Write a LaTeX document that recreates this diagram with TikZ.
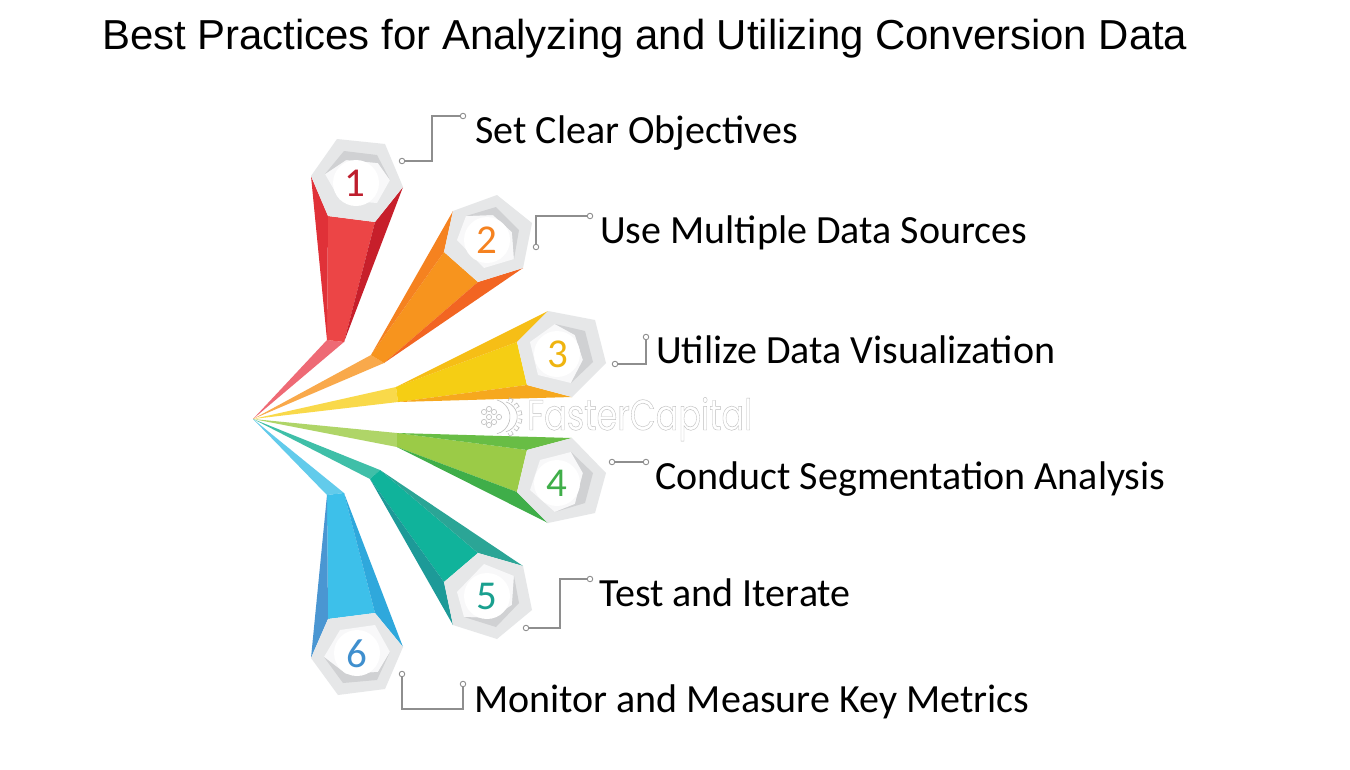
\documentclass[tikz,border=0pt]{standalone}
\usepackage{fontspec}
\setmainfont{Carlito}
\newfontfamily\titlefont{Liberation Sans}
\newfontfamily\markfont[FakeBold=1]{Poppins}
\definecolor{hexout}{HTML}{E6E7E8}
\definecolor{hexin}{HTML}{F8F8F9}
\definecolor{hexsh}{HTML}{D0D1D3}
\definecolor{wire}{HTML}{8E8E8E}
\definecolor{redM}{HTML}{EC4546}\definecolor{redL}{HTML}{E03138}\definecolor{redR}{HTML}{C71F2B}\definecolor{redT}{HTML}{EE6A75}\definecolor{redN}{HTML}{BE1E2D}
\definecolor{oraM}{HTML}{F7941E}\definecolor{oraL}{HTML}{F58220}\definecolor{oraR}{HTML}{F26522}\definecolor{oraT}{HTML}{F9A94B}\definecolor{oraN}{HTML}{F58220}
\definecolor{yelM}{HTML}{F5CE14}\definecolor{yelL}{HTML}{F6BE16}\definecolor{yelR}{HTML}{F6A81E}\definecolor{yelT}{HTML}{F9D94A}\definecolor{yelN}{HTML}{EFB40F}
\definecolor{greM}{HTML}{9BCB47}\definecolor{greL}{HTML}{68BD45}\definecolor{greR}{HTML}{3FAE49}\definecolor{greT}{HTML}{AFD568}\definecolor{greN}{HTML}{3FAE49}
\definecolor{teaM}{HTML}{10B39B}\definecolor{teaL}{HTML}{2BA596}\definecolor{teaR}{HTML}{1D9A98}\definecolor{teaT}{HTML}{3FBFA8}\definecolor{teaN}{HTML}{1AA08F}
\definecolor{bluM}{HTML}{3DC0EA}\definecolor{bluL}{HTML}{4A96D2}\definecolor{bluR}{HTML}{2FA8DC}\definecolor{bluT}{HTML}{62CBEB}\definecolor{bluN}{HTML}{3F8FCE}
\tikzset{
  x=1pt,y=-1pt,
  lbl/.style={anchor=base west,inner sep=0pt,font=\fontsize{40}{44}\selectfont,text=black},
  num/.style={inner sep=0pt,font=\fontsize{41}{44}\selectfont},
  wireline/.style={draw=wire,line width=1.1pt},
  dot/.style={circle,draw=wire,fill=white,line width=0.9pt,minimum size=5.5pt,inner sep=0pt},
  gearline/.style={draw=black!26,line width=0.6pt}
}
\newcommand{\spike}[7]{%
  \fill[#1T] (apex) -- #2 -- #3 -- cycle;
  \fill[#1M] #2 -- #3 -- #5 -- #4 -- cycle;
  \fill[#1L] #2 -- #4 -- #6 -- cycle;
  \fill[#1R] #3 -- #5 -- #7 -- cycle;
}
\newcommand{\hexag}[4]{%
  \fill[hexout] #1 -- cycle;
  \fill[hexin] #3 -- cycle;
  \fill[hexsh] #2 -- cycle;
  \fill[white] #4 circle[radius=23];
}
\begin{document}
\begin{tikzpicture}
\useasboundingbox (0,0) rectangle (1350,769);
\fill[white] (0,0) rectangle (1350,769);
\node[anchor=base west,inner sep=0pt,font=\titlefont\fontsize{41.9}{44}\selectfont] (title) at (102,49) {Best Practices for Analyzing and Utilizing Conversion Data};

\coordinate (apex) at (253,419);
\spike{red}{(327,340)}{(344,342)}{(328,216)}{(375,222)}{(311,176)}{(403,187)}
\hexag{(337,139) -- (385,144) -- (403,187) -- (375,222) -- (328,216) -- (311,176)}
      {(325,174) -- (344,151) -- (377,155) -- (390,180) -- (378,163) -- (346,160)}
      {(325,174) -- (346,160) -- (378,163) -- (390,180) -- (377,203) -- (340,200)}
      {(356,183)}
\spike{ora}{(371,355)}{(384,363)}{(444,252)}{(478,282)}{(453,211)}{(523,268)}
\hexag{(453,211) -- (497,195) -- (532,223) -- (523,268) -- (478,282) -- (444,252)}
      {(466,216) -- (496,207) -- (519,230) -- (514,259) -- (512,232) -- (493,215)}
      {(466,216) -- (493,215) -- (512,232) -- (514,259) -- (484,268) -- (457,240)}
      {(487,240)}
\spike{yel}{(396,387)}{(398,402)}{(517,342)}{(527,385)}{(548,311)}{(572,397)}
\hexag{(548,311) -- (595,320) -- (606,363) -- (572,397) -- (527,385) -- (517,342)}
      {(555,324) -- (585,331) -- (593,362) -- (571,383) -- (583,360) -- (575,335)}
      {(555,324) -- (575,335) -- (583,360) -- (571,383) -- (538,375) -- (530,342)}
      {(557,354)}
\spike{gre}{(397,433)}{(397,447)}{(527,450)}{(517,492)}{(572,438)}{(548,523)}
\hexag{(572,438) -- (606,473) -- (595,513) -- (548,523) -- (517,492) -- (527,450)}
      {(571,452) -- (593,473) -- (585,503) -- (555,512) -- (575,504) -- (583,473)}
      {(571,452) -- (583,473) -- (575,504) -- (555,512) -- (530,490) -- (540,460)}
      {(557,483)}
\spike{tea}{(380,470)}{(370,479)}{(478,553)}{(444,582)}{(523,566)}{(453,625)}
\hexag{(478,553) -- (523,566) -- (532,610) -- (497,639) -- (453,625) -- (444,582)}
      {(514,576) -- (519,603) -- (496,627) -- (464,617) -- (492,618) -- (512,605)}
      {(514,576) -- (512,605) -- (492,618) -- (464,617) -- (457,592) -- (484,564)}
      {(487,596)}
\spike{blu}{(327,495)}{(344,493)}{(328,619)}{(375,613)}{(311,658)}{(403,647)}
\hexag{(375,613) -- (403,647) -- (385,689) -- (338,695) -- (311,658) -- (328,619)}
      {(324,657) -- (343,683) -- (377,680) -- (390,652) -- (378,672) -- (346,674)}
      {(324,657) -- (346,674) -- (378,672) -- (390,652) -- (375,625) -- (340,630)}
      {(357,653)}

\node[num,text=redN] (n1) at (355,183) {1};
\node[num,text=oraN] (n2) at (487,240) {2};
\node[num,text=yelN] (n3) at (558,354) {3};
\node[num,text=greN] (n4) at (557,483) {4};
\node[num,text=teaN] (n5) at (487,596) {5};
\node[num,text=bluN] (n6) at (357,654) {6};

% watermark
\node[anchor=base west,inner sep=0pt,font=\markfont\fontsize{43}{46}\selectfont] (mark) at (527,430)
  {\special{pdf:bc [1] [0.74]}\scalebox{0.78}[1]{FasterCapital}\special{pdf:ec}};
\draw[gearline] (506,402) arc[start angle=-74,end angle=74,radius=15.5];
\draw[gearline] (497,400) arc[start angle=-75,end angle=75,radius=17.5];
\foreach \aa in {-60,-36,-12,12,36,60} {
  \draw[gearline,rotate around={\aa:(501,417)}] (518.5,415) -- (522,415) -- (522,419) -- (518.5,419);
}
\foreach \xx/\yy in {499/417,494/412,494/422,489/409,489/417,489/425,484/412,484/422} {
  \draw[gearline] (\xx,\yy) circle[radius=2.6];
}

% connectors
\node[dot] (a1) at (402,161) {}; \coordinate (b1) at (432,161); \coordinate (c1) at (432,116); \node[dot] (d1) at (463,116) {};
\draw[wireline] (a1) -- (b1) -- (c1) -- (d1);
\node[dot] (a2) at (536,247) {}; \coordinate (c2) at (536,216); \node[dot] (d2) at (590,216) {};
\draw[wireline] (a2) -- (c2) -- (d2);
\node[dot] (a3) at (615,364) {}; \coordinate (c3) at (646,364); \node[dot] (d3) at (646,337) {};
\draw[wireline] (a3) -- (c3) -- (d3);
\node[dot] (a4) at (612,462) {}; \node[dot] (d4) at (646,462) {};
\draw[wireline] (a4) -- (d4);
\node[dot] (a5) at (526,628) {}; \coordinate (b5) at (560,628); \coordinate (c5) at (560,579); \node[dot] (d5) at (590,579) {};
\draw[wireline] (a5) -- (b5) -- (c5) -- (d5);
\node[dot] (a6) at (402,674) {}; \coordinate (b6) at (402,709); \coordinate (c6) at (463,709); \node[dot] (d6) at (463,684) {};
\draw[wireline] (a6) -- (b6) -- (c6) -- (d6);

% labels
\node[lbl] (l1) at (475,143) {Set Clear Objectives};
\node[lbl] (l2) at (600,243) {Use Multiple Data Sources};
\node[lbl] (l3) at (656,363) {Utilize Data Visualization};
\node[lbl] (l4) at (655,489) {Conduct Segmentation Analysis};
\node[lbl] (l5) at (599,606) {Test and Iterate};
\node[lbl] (l6) at (474,712) {Monitor and Measure Key Metrics};
\end{tikzpicture}
\end{document}
